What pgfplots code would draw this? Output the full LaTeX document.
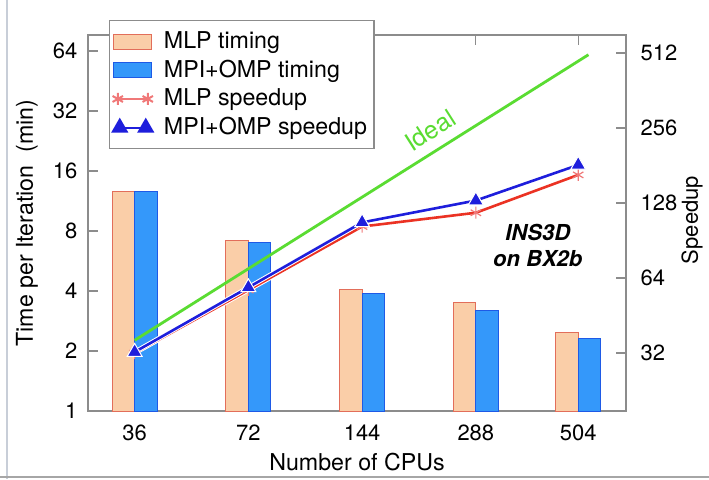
\documentclass[border=0pt]{standalone}
\usepackage{pgfplots}
\usepackage{pgfplotstable}
\pgfplotsset{compat=1.18}
\usepackage{fontspec}
\setmainfont{TeX Gyre Heros}

\definecolor{mlpfill}{RGB}{250,206,168}
\definecolor{mlpedge}{RGB}{226,110,90}
\definecolor{ompfill}{RGB}{52,152,250}
\definecolor{ompedge}{RGB}{30,90,230}
\definecolor{ompline}{RGB}{30,30,220}
\definecolor{mlpline}{RGB}{235,50,35}
\definecolor{mlplegend}{RGB}{240,120,120}
\definecolor{idealgreen}{RGB}{90,220,50}
\definecolor{axisgray}{RGB}{140,140,140}
\definecolor{framegray}{RGB}{200,206,216}

\pgfplotstableread{
x    cpus mlpt ompt mlps omps
0    36   12.6 12.6 32.0 32.3
1    72   7.13 7.02 57.3 58.7
2    144  4.09 3.90 103  107
3    288  3.49 3.19 117  131
3.9  504  2.47 2.32 166  182
}\data

\pgfplotstableread{
x    s
0    36
3.99 504
}\ideal

\begin{document}
\begin{tikzpicture}
\useasboundingbox (0,0) rectangle (354.5pt,239.5pt);
\fill[white] (0,0) rectangle (354.5pt,239.5pt);
\draw[line width=0.8pt, color=framegray] (3.5pt,0) -- (3.5pt,239.5pt);
\draw[line width=1pt, color=gray!70] (0,1pt) -- (354.5pt,1pt);

\begin{axis}[
  scale only axis, width=269pt, height=188pt,
  at={(44pt,34pt)}, anchor=south west,
  xmin=-0.41, xmax=4.32,
  ymode=log,
  ymin=1, ymax=77,
  tick align=inside,
  major tick length=5pt,
  minor tick num=0,
  tick style={axisgray, line width=0.6pt},
  axis line style={axisgray, line width=0.6pt},
  tick label style={font=\fontsize{11}{13}\selectfont},
  label style={font=\fontsize{11.6}{13}\selectfont},
  /pgf/number format/assume math mode=true,
  log ticks with fixed point,
  ytick={1,2,4,8,16,32,64},
  ytick pos=left,
  xtick={0,1,2,3,3.9},
  xticklabels={36,72,144,288,504},
  xtick pos=both,
  yticklabel style={xshift=-1.8pt},
  xticklabel style={yshift=-3.3pt},
  xlabel={Number of CPUs},
  ylabel={Time per Iteration\ \ (min)},
  xlabel style={at={(axis description cs:0.5,-0.136)}, anchor=center},
  ylabel style={at={(axis description cs:-0.1135,0.5)}, anchor=center, rotate=0},
]
\addplot[ybar, bar width=0.198, bar shift=0pt, fill=mlpfill, draw=mlpedge, line width=0.5pt]
  table[x expr=\thisrow{x}-0.099, y=mlpt] {\data};
\addplot[ybar, bar width=0.198, bar shift=0pt, fill=ompfill, draw=ompedge, line width=0.5pt]
  table[x expr=\thisrow{x}+0.099, y=ompt] {\data};
\end{axis}

\begin{axis}[
  scale only axis, width=269pt, height=188pt,
  at={(44pt,34pt)}, anchor=south west,
  xmin=-0.41, xmax=4.32,
  ymode=log,
  ymin=18.73, ymax=604.7,
  tick align=inside,
  major tick length=5pt,
  minor tick num=0,
  tick style={axisgray, line width=0.6pt},
  axis line style={axisgray, line width=0.6pt},
  tick label style={font=\fontsize{11}{13}\selectfont},
  label style={font=\fontsize{11}{13}\selectfont},
  /pgf/number format/assume math mode=true,
  log ticks with fixed point,
  axis x line=none,
  axis y line*=right,
  ytick={32,64,128,256,512},
  yticklabel style={xshift=3.8pt},
  ylabel={Speedup},
  ylabel style={at={(axis description cs:1.123,0.508)}, anchor=center, rotate=0},
  legend cell align=left,
  legend style={at={(0.039,1.040)}, anchor=north west, draw=axisgray, line width=0.6pt,
    fill=white, font=\fontsize{11.6}{13.5}\selectfont, inner xsep=1.5pt, inner ysep=3.5pt,
    row sep=0.3pt, /tikz/every odd column/.append style={column sep=3.5pt}},
]
\addlegendimage{legend image code/.code={\draw[fill=mlpfill,draw=mlpedge,line width=0.5pt] (0pt,-3.75pt) rectangle (19pt,3.75pt);}}
\addlegendentry{MLP timing}
\addlegendimage{legend image code/.code={\draw[fill=ompfill,draw=ompedge,line width=0.5pt] (0pt,-3.75pt) rectangle (19pt,3.75pt);}}
\addlegendentry{MPI+OMP timing}
\addlegendimage{legend image code/.code={\draw[color=mlplegend, line width=1pt, mark=asterisk, mark size=3pt, mark repeat=2, mark phase=1] plot coordinates {(2pt,0pt) (9.5pt,0pt) (17pt,0pt)};}}
\addlegendentry{MLP speedup}
\addlegendimage{legend image code/.code={\draw[color=ompline, line width=1pt, mark=triangle*, mark size=4pt, mark repeat=2, mark phase=1] plot coordinates {(3pt,0pt) (9.5pt,0pt) (16pt,0pt)};}}
\addlegendentry{MPI+OMP speedup}

\addplot[forget plot, color=idealgreen, line width=1.4pt] table[x=x, y=s] {\ideal};
\addplot[forget plot, color=mlpline, line width=1.3pt, preaction={draw=white, line width=2.3pt},
  mark=asterisk, mark size=3pt, mark options={color=mlplegend, line width=0.6pt}]
  table[x=x, y=mlps] {\data};
\addplot[forget plot, color=ompline, line width=1.3pt, preaction={draw=white, line width=2.3pt},
  mark=triangle*, mark size=4.3pt, mark options={fill=ompline, draw=white, line width=0.5pt}]
  table[x=x, y=omps] {\data};

\node[rotate=32.5, text=idealgreen, font=\fontsize{12.5}{14}\selectfont] at (rel axis cs:0.636,0.747) {Ideal};
\node[align=center, font=\fontsize{11}{13}\selectfont\bfseries\itshape] at (rel axis cs:0.836,0.44) {INS3D\\on BX2b};
\end{axis}
\end{tikzpicture}
\end{document}
